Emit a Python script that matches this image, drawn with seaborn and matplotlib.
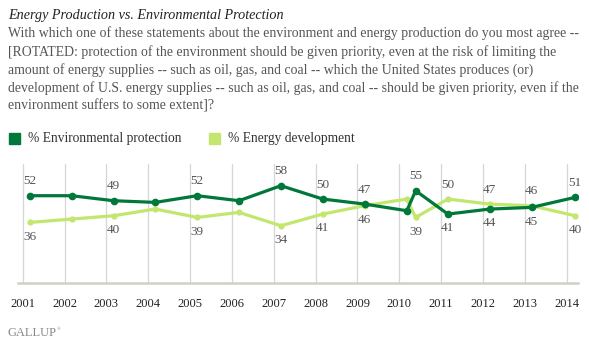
import matplotlib
matplotlib.use("Agg")
import matplotlib.pyplot as plt
import seaborn as sns
import pandas as pd
import numpy as np
from matplotlib.patches import Rectangle

# ---- data ----
poll_dates = [2001.17, 2002.17, 2003.17, 2004.17, 2005.17, 2006.17, 2007.17,
              2008.17, 2009.17, 2010.18, 2010.39, 2011.16, 2012.16, 2013.16, 2014.2]
environment = [52, 52, 49, 48, 52, 49, 58, 50, 47, 43, 55, 41, 44, 45, 51]
energy = [36, 38, 40, 44, 39, 42, 34, 41, 46, 50, 39, 50, 47, 46, 40]
# which points carry value labels
labeled = [True, False, True, False, True, False, True, True, True, False,
           True, True, True, True, True]
year_ticks = list(range(2001, 2015))
series_names = ["% Environmental protection", "% Energy development"]

title = "Energy Production vs. Environmental Protection"
question = ("With which one of these statements about the environment and energy production do you most agree --\n"
            "[ROTATED: protection of the environment should be given priority, even at the risk of limiting the\n"
            "amount of energy supplies -- such as oil, gas, and coal -- which the United States produces (or)\n"
            "development of U.S. energy supplies -- such as oil, gas, and coal -- should be given priority, even if the\n"
            "environment suffers to some extent]?")

DARK = "#00783A"
LIGHT = "#C3E66E"

df = pd.DataFrame({
    "date": poll_dates * 2,
    "value": environment + energy,
    "series": [series_names[0]] * len(poll_dates) + [series_names[1]] * len(poll_dates),
})

sns.set_theme(style="white")
plt.rcParams["font.family"] = ["Liberation Serif", "DejaVu Serif"]

W, H = 589, 344
fig = plt.figure(figsize=(W / 100, H / 100), dpi=100)
ax = fig.add_axes([18.3 / W, (H - 282.5) / H, (578 - 18.3) / W, (282.5 - 164) / H])

for x in year_ticks:
    ax.axvline(x, color="#d6d6d6", lw=0.9, zorder=0)

sns.lineplot(data=df[df.series == series_names[1]], x="date", y="value",
             color=LIGHT, lw=2.3, marker="o", markersize=4.5, markeredgewidth=0,
             ax=ax, legend=False, zorder=2)
sns.lineplot(data=df[df.series == series_names[0]], x="date", y="value",
             color=DARK, lw=2.3, marker="o", markersize=5.5, markeredgewidth=0,
             ax=ax, legend=False, zorder=3)

ax.set_xlim(2000.895, 2014.27)
ax.set_ylim(0, 71)
ax.set_xticks(year_ticks)
ax.set_xticklabels([str(y) for y in year_ticks], fontsize=9, color="#222222")
ax.tick_params(axis="x", length=0, pad=11)
ax.set_yticks([])
ax.set_xlabel("")
ax.set_ylabel("")
for s in ["top", "left", "right"]:
    ax.spines[s].set_visible(False)
ax.spines["bottom"].set_color("#d0d0c8")
ax.spines["bottom"].set_linewidth(1.8)

# value labels
for x, e, g, lab in zip(poll_dates, environment, energy, labeled):
    if not lab:
        continue
    hi, lo = (e, g) if e >= g else (g, e)
    ax.annotate(str(hi), (x, hi), xytext=(0, 6), textcoords="offset points",
                ha="center", va="bottom", fontsize=9.5, color="#555555")
    ax.annotate(str(lo), (x, lo), xytext=(0, -6), textcoords="offset points",
                ha="center", va="top", fontsize=9.5, color="#555555")

# title / question
fig.text(8 / W, 1 - 19 / H, title, ha="left", va="baseline", fontsize=10.2,
         style="italic", color="#222222")
fig.text(8 / W, 1 - 110 / H, question, ha="left", va="baseline", fontsize=9.9,
         color="#555555", linespacing=1.42)

# legend
for x0, col, name in [(9, DARK, series_names[0]), (209, LIGHT, series_names[1])]:
    fig.patches.append(Rectangle((x0 / W, (H - 144) / H), 11 / W, 11 / H,
                                 transform=fig.transFigure, color=col))
    fig.text((x0 + 19) / W, (H - 138.5) / H, name, ha="left", va="center",
             fontsize=9.75, color="#333333")

fig.text(8 / W, 1 - 336 / H, "GALLUP", ha="left", va="baseline", fontsize=9,
         color="#888888")
fig.text(57 / W, 1 - 330 / H, "®", ha="left", va="baseline", fontsize=3.5,
         color="#888888")

fig.savefig("out.png", dpi=100)
